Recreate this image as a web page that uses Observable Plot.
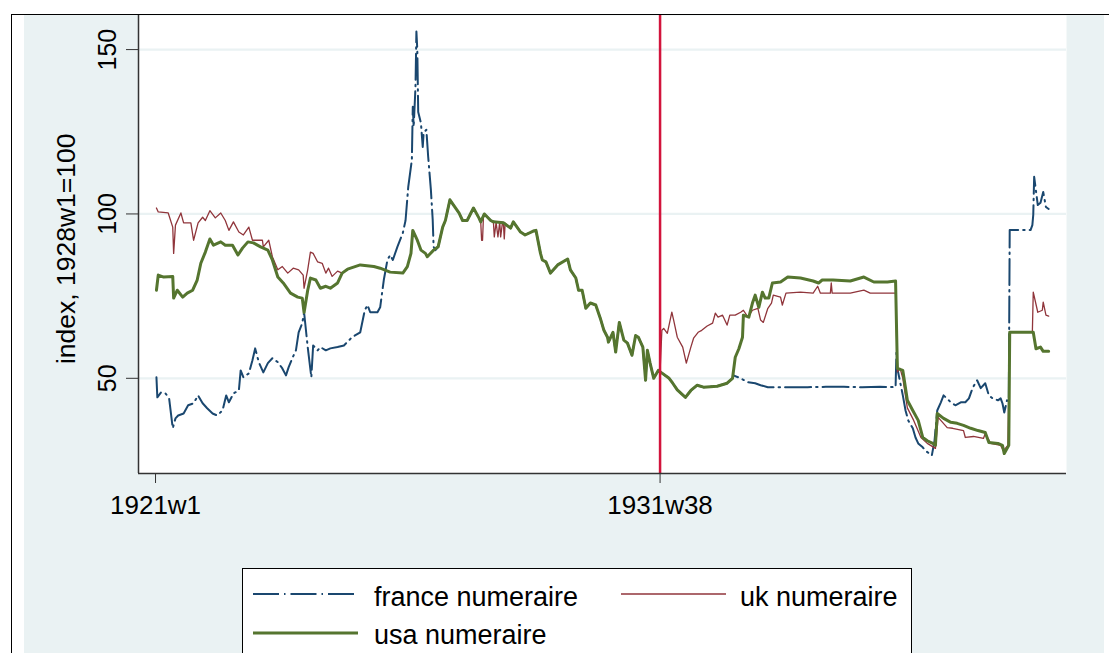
<!DOCTYPE html>
<html><head><meta charset="utf-8">
<script src="https://cdn.jsdelivr.net/npm/d3@7"></script>
<script src="https://cdn.jsdelivr.net/npm/@observablehq/plot@0.6"></script>
<style>
body{margin:0;background:#fff;font-family:"Liberation Sans",Arial,Helvetica,sans-serif;}
#page{position:relative;width:1109px;height:653px;overflow:hidden;background:#fff;}
#outer{position:absolute;left:11px;top:14px;right:-5px;bottom:-5px;border-left:1.5px solid #000;border-top:1.5px solid #000;}
#region{position:absolute;left:24px;top:15px;width:1080px;bottom:0;background:#EAF2F3;}
#chart{position:absolute;left:0;top:0;}
#legend{position:absolute;left:242px;top:568px;width:668px;height:100px;background:#fff;border:1.3px solid #000;}
#legend svg{position:absolute;left:0;top:0;overflow:visible;}
</style></head>
<body>
<div id="page">
  <div id="outer"></div>
  <div id="region"></div>
  <div id="chart"></div>
  <div id="legend"></div>
</div>
<script>
// week index: 0 = 1921w1 (Stata weekly, 52 weeks per year)
const xTickWeeks = [0, 557];
const xTickLabels = ["1921w1", "1931w38"];
const yTicks = [50, 100, 150];
const yTitle = "index, 1928w1=100";
const markerWeek = 557; // 1931w38
const seriesNames = ["france numeraire", "uk numeraire", "usa numeraire"];

// USA-numeraire only segment (before the series overlap)
const usaEarly = [[1,76.8],[3,81.4],[9,80.8],[19,81],[20,74.4],[24,76.8],[30,74.7],[35,75.9],[41,76.8],[46,79.9],[50,85],[55,88.4],[60,92.4],[64,90.5],[72,91.5],[77,90.5],[85,90.5],[91,87.5],[96,89.6],[102,91.5],[108,91.2],[116,90],[124,89],[129,86],[135,80.8],[141,79],[149,75.9],[157,74.7],[162,74.4],[164,70],[168,76.8],[171,80.5],[177,79.9],[182,77.4],[188,78],[193,77.4],[201,79]];

// segment where the series coincide
const shared = [[206,82],[212,83.2],[226,84.5],[241,84],[248,83.5],[259,82.3],[273,82],[278,84],[282,88],[284,95],[289,92],[293,89],[298,88],[300,87],[307,89],[312,90],[317,96],[320,98],[325,104.3],[329,102.7],[335,100.3],[339,98],[344,98],[351,101.8],[357,98.8],[359,97.6],[363,100],[370,98],[373,97.6],[384,97.3],[392,95.7],[395,97.6],[403,94.5],[408,93.6],[417,94.8],[420,95],[425,88],[427,86],[431,85.4],[436,82],[444,84.5],[455,86.3],[458,83],[464,80.5],[467,76.8],[471,76.8],[475,71.3],[480,72.9],[486,72.3],[491,68.3],[495,64.6],[499,62.5],[500,61],[505,64],[508,58],[512,67],[517,61.6],[521,60.7],[526,57],[530,63],[533,62.5],[538,59.5],[541,49.4],[543,58.5],[546,54.6],[550,50],[555,52.4],[558,51.8],[567,50],[571,48.5],[576,46.5],[585,44.2],[591,46.3],[598,47.9],[605,47.3],[620,47.6],[631,48.5],[637,50]];

const usaLate = [[640,56.4],[644,59],[648,62.5],[649,69.2],[655,68.6],[659,72.9],[662,75.3],[666,71.6],[670,76.2],[673,74.4],[677,74.4],[681,79],[690,79.3],[698,80.8],[712,80.5],[726,79.6],[732,79],[736,79.9],[748,79.9],[767,79.6],[782,80.8],[793,79.3],[808,79.3],[817,79.6],[819,53],[825,52.4],[830,43.3],[836,40.2],[842,37.2],[847,32],[852,31],[858,30.2],[861,29.6],[863,39.3],[870,37.8],[878,36.6],[885,36.3],[892,35.7],[900,34.8],[908,34.1],[916,33.5],[920,30.5],[930,30.2],[935,29.6],[937,27.1],[942,29.6],[943,64],[969,64],[972,59],[977,59.5],[980,58.2],[986,58.2]];

const ukEarly = [[1,101.8],[3,100.6],[14,100.3],[19,96],[20,88],[22,96.6],[28,100.3],[31,97.3],[39,97.3],[42,92],[47,97.3],[52,99],[55,98],[60,101],[66,98.8],[72,100.3],[77,98],[81,95],[86,97.6],[92,94.5],[97,93.6],[103,96],[107,92],[118,92],[119,90],[125,92],[129,87],[135,83],[140,84],[146,82],[152,83.5],[158,83],[163,81.4],[164,77.4],[168,83],[171,88.4],[174,88],[179,85.4],[184,85],[188,82],[191,83.5],[195,81],[201,82.6]];
const ukDips = [[360,92],[361,92],[362,99],[374,93],[376,97.5],[378,93],[380,97.6],[381,93],[383,97.4],[385,92.4],[386,97.2],[557,52]];
const ukLate = [[559,64.6],[561,65.2],[565,63.7],[570,70.1],[572,67.7],[576,62.5],[582,59.5],[586,54.6],[591,59.5],[594,62.2],[599,64],[603,64.6],[609,65.9],[615,66.8],[618,69.8],[621,68.6],[626,69.2],[631,66.2],[634,69.2],[640,69.2],[646,70.1],[649,70.7],[654,68.6],[659,70.7],[665,71.3],[668,67.7],[671,67],[676,71.3],[680,72.9],[682,75.3],[690,74.7],[692,72.3],[696,75.9],[712,76.2],[726,75.9],[731,78],[734,75.9],[745,75.9],[746,79],[747,75.9],[767,75.9],[782,76.8],[789,75.9],[804,75.9],[817,75.9],[819,52],[822,53],[825,50],[830,41],[837,37.2],[845,32],[852,30.2],[861,28.7],[864,38.1],[874,35],[880,34.8],[892,34.1],[894,32],[903,32.3],[914,31.7],[916,33.2],[922,30.2],[933,29.6],[936,28],[941,29.6],[943,64],[968,64],[969,76.2],[974,70.1],[979,70.7],[980,73.2],[983,69.2],[986,68.9]];

const franceEarly = [[1,50.3],[2,44.2],[6,45.7],[11,45.4],[15,43.9],[19,34.8],[22,37.8],[25,38.7],[31,39.3],[36,41.8],[42,42.4],[47,44.8],[52,42.4],[57,40.9],[63,39.3],[68,38.7],[74,40.2],[78,44.8],[81,42.7],[86,45.4],[92,46.3],[94,52.4],[97,50.3],[103,51.5],[107,55.5],[110,59.1],[114,54.9],[119,51.8],[124,54.6],[129,56.1],[135,54.9],[140,53],[144,50.9],[147,53.4],[151,56.1],[155,58.5],[158,64],[162,66.8],[164,70.1],[168,59.5],[172,50.3],[174,60],[179,58.5],[182,59.5],[188,58.5],[193,59.1],[201,59.5],[208,60],[217,62.5],[226,64],[231,70.7],[234,72.3],[237,70.1],[245,70.1],[248,71.6],[252,79.9],[256,86],[259,87.5],[262,86],[267,90],[273,94.2],[276,98],[279,108.2],[283,116.5],[284,132.6],[285,126.5],[287,138.7],[288,155.5],[289,150],[290,131],[293,127.7],[295,120.4],[296,124.7],[299,125.6],[301,117.4],[304,107.3],[306,98.2],[307,90],[309,89]];
const franceLate = [[638,50.9],[646,50],[654,48.8],[662,48.5],[668,47.9],[676,47.3],[681,47.3],[700,47.3],[720,47.3],[740,47.4],[760,47.4],[780,47.3],[800,47.4],[817,47.3],[818,58.5],[819,53],[825,44.8],[828,40.2],[831,37.2],[836,34.8],[839,32],[842,30.2],[847,29],[850,28],[857,26.5],[860,31],[863,40.2],[867,42.7],[870,44.8],[878,42.7],[883,41.8],[889,42.7],[894,42.7],[898,43.9],[902,47],[905,48.5],[907,49.4],[911,47],[916,48.5],[920,44.8],[924,43.9],[930,43.3],[933,43.9],[935,42.4],[937,39.6],[940,43.3],[942,43],[943,95.1],[966,95.1],[968,96.6],[969,99.7],[970,111.3],[974,102.7],[977,103.4],[980,106.7],[983,102.1],[986,101.5]];

const colors = {france: "#1A476F", uk: "#90353B", usa: "#55752F"};
const franceDash = "26,5,1.5,5";

const toRows = arr => arr.map(([week, value]) => ({week, value}));
const byWeek = (a, b) => a[0] - b[0];
const usa = toRows([...usaEarly, ...shared, ...usaLate]);
const uk = toRows([...ukEarly, ...[...shared.filter(d => d[0] <= 557), ...ukDips].sort(byWeek), ...ukLate]);
const france = toRows([...franceEarly, ...shared.filter(d => d[0] > 309), ...franceLate]);

const xDomain = [-18.8, 1005.7];
const yDomain = [21.04, 160.37];
const font = '"Liberation Sans", Arial, Helvetica, sans-serif';

const chart = Plot.plot({
  width: 1109, height: 540,
  marginLeft: 138, marginRight: 43, marginTop: 15, marginBottom: 67,
  x: {domain: xDomain},
  y: {domain: yDomain},
  style: {background: "transparent", fontFamily: font, overflow: "visible", color: "#000"},
  marks: [
    Plot.frame({fill: "white", stroke: "none"}),
    Plot.ruleY(yTicks, {stroke: "#EAF2F3", strokeWidth: 2.2}),
    Plot.line(france, {x: "week", y: "value", stroke: colors.france, strokeWidth: 2, strokeDasharray: franceDash}),
    Plot.line(uk, {x: "week", y: "value", stroke: colors.uk, strokeWidth: 1.3}),
    Plot.line(usa, {x: "week", y: "value", stroke: colors.usa, strokeWidth: 3}),
    Plot.ruleX([markerWeek], {stroke: "#D2143C", strokeWidth: 2.5}),
    Plot.ruleX([xDomain[0]], {stroke: "#333", strokeWidth: 1.5}),
    Plot.ruleY([yDomain[0]], {stroke: "#333", strokeWidth: 1.5}),
    Plot.axisX({ticks: xTickWeeks, tickFormat: d => xTickLabels[xTickWeeks.indexOf(d)], tickSize: 10, tickPadding: 12, fontSize: 26, label: null, stroke: "#333"}),
    Plot.axisY({ticks: yTicks, tickSize: 12, tickFormat: () => "", label: null, stroke: "#333"}),
    Plot.text(yTicks, {y: d => d, text: d => String(d), frameAnchor: "left", dx: -31, rotate: -90, fontSize: 25, textAnchor: "middle", lineAnchor: "middle"}),
    Plot.text([yTitle], {frameAnchor: "top-left", dx: -72, dy: 118, rotate: -90, textAnchor: "end", lineAnchor: "middle", fontSize: 26.5})
  ]
});
document.getElementById("chart").appendChild(chart);

// legend
const lg = d3.select("#legend").append("svg").attr("width", 668).attr("height", 100).style("font-family", font);
const items = [
  {name: seriesNames[0], color: colors.france, w: 2, dash: franceDash, lx: 10, tx: 131, ly: 25, ty: 37},
  {name: seriesNames[1], color: colors.uk, w: 1.3, dash: null, lx: 378, tx: 497, ly: 25, ty: 37},
  {name: seriesNames[2], color: colors.usa, w: 3, dash: null, lx: 10, tx: 131, ly: 64, ty: 75}
];
for (const it of items) {
  lg.append("line").attr("x1", it.lx).attr("x2", it.lx + 105).attr("y1", it.ly).attr("y2", it.ly)
    .attr("stroke", it.color).attr("stroke-width", it.w).attr("stroke-dasharray", it.dash);
  lg.append("text").attr("x", it.tx).attr("y", it.ty).attr("font-size", 27).attr("fill", "#000").text(it.name);
}
</script>
</body></html>
